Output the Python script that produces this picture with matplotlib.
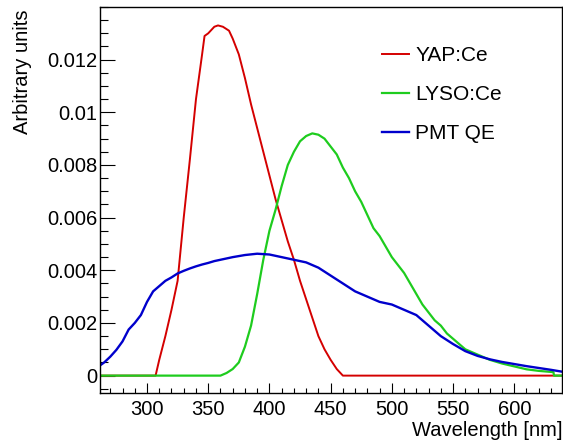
import matplotlib
matplotlib.use("Agg")
import matplotlib.pyplot as plt
from matplotlib.ticker import MultipleLocator

plt.rcParams['font.family'] = ['Liberation Sans', 'DejaVu Sans']

# YAP:Ce emission spectrum
yap_wl = [262, 300, 307, 310, 315, 320, 325, 330, 335, 340, 345, 347, 350, 355, 358,
          362, 367, 370, 375, 380, 385, 390, 395, 400, 405, 410, 415, 420, 425,
          430, 435, 440, 445, 450, 455, 460, 639]
yap_val = [0, 0, 0, 0.0006, 0.0015, 0.0025, 0.0036, 0.0060, 0.0082, 0.0105, 0.0122,
           0.0129, 0.0130, 0.01325, 0.0133, 0.01325, 0.0131, 0.0128, 0.0122, 0.0113,
           0.0103, 0.0094, 0.0085, 0.0076, 0.0067, 0.0059, 0.0051, 0.0044, 0.0036,
           0.0029, 0.0022, 0.0015, 0.0010, 0.0006, 0.00025, 0, 0]

# LYSO:Ce emission spectrum
lyso_wl = [262, 360, 365, 370, 375, 380, 385, 390, 395, 400, 405, 410, 415, 420, 425,
           430, 435, 440, 445, 450, 455, 460, 465, 470, 475, 480, 485, 490, 495,
           500, 505, 510, 515, 520, 525, 530, 535, 540, 545, 550, 555, 560, 570,
           580, 590, 600, 610, 620, 630, 632, 632.5, 639]
lyso_val = [0, 0, 0.0001, 0.00025, 0.0005, 0.0011, 0.0019, 0.0031, 0.0044, 0.0055,
            0.0063, 0.0072, 0.0080, 0.0085, 0.0089, 0.0091, 0.0092, 0.00915, 0.0090,
            0.0087, 0.0084, 0.0079, 0.0075, 0.0070, 0.0066, 0.0061, 0.0056, 0.0053,
            0.0049, 0.0045, 0.0042, 0.0039, 0.0035, 0.0031, 0.0027, 0.0024, 0.0021,
            0.0019, 0.0016, 0.0014, 0.0012, 0.0010, 0.0008, 0.0006, 0.00046,
            0.00035, 0.00024, 0.00018, 0.00014, 0.00013, 0, 0]

# PMT quantum efficiency (scaled)
pmt_wl = [262, 265, 270, 275, 280, 285, 290, 295, 300, 305, 310, 315, 320, 325, 330,
          335, 340, 345, 350, 355, 360, 370, 380, 390, 400, 410, 420, 430, 440,
          450, 460, 470, 480, 490, 500, 510, 520, 530, 540, 550, 560, 570, 580,
          590, 600, 610, 620, 630, 639]
pmt_val = [0.0004, 0.0005, 0.00072, 0.00098, 0.0013, 0.00175, 0.0020, 0.0023, 0.0028,
           0.0032, 0.0034, 0.0036, 0.00373, 0.00388, 0.00398, 0.00407, 0.00415,
           0.00422, 0.00428, 0.00435, 0.0044, 0.0045, 0.00458, 0.00463, 0.0046,
           0.0045, 0.0044, 0.0043, 0.0041, 0.0038, 0.0035, 0.0032, 0.0030, 0.0028,
           0.0027, 0.0025, 0.0023, 0.0019, 0.0015, 0.0012, 0.00093, 0.00075,
           0.00062, 0.00052, 0.00044, 0.00036, 0.00029, 0.00022, 0.00015]

fig = plt.figure(figsize=(5.63, 4.43), dpi=100)
ax = fig.add_axes([100 / 563, 1 - 393 / 443, 462 / 563, 386 / 443])

ax.plot(yap_wl, yap_val, color='#d40000', lw=1.4, label='YAP:Ce')
ax.plot(lyso_wl, lyso_val, color='#1ecc1e', lw=1.6, label='LYSO:Ce')
ax.plot(pmt_wl, pmt_val, color='#0000cc', lw=1.7, label='PMT QE')

ax.set_xlim(261.6, 639)
ax.set_ylim(-0.00066, 0.0140)

ax.xaxis.set_major_locator(MultipleLocator(50))
ax.xaxis.set_minor_locator(MultipleLocator(10))
ax.yaxis.set_minor_locator(MultipleLocator(0.0005))
ax.set_yticks([0, 0.002, 0.004, 0.006, 0.008, 0.01, 0.012])
ax.set_yticklabels(['0', '0.002', '0.004', '0.006', '0.008', '0.01', '0.012'])

ax.tick_params(axis='both', which='both', direction='in', labelsize=14.5,
               top=False, right=False, width=0.8, colors='black')
ax.tick_params(axis='y', which='major', length=10.8, pad=2)
ax.tick_params(axis='y', which='minor', length=5.8)
ax.tick_params(axis='x', which='major', length=7.2, pad=5)
ax.tick_params(axis='x', which='minor', length=3.6)
for s in ax.spines.values():
    s.set_linewidth(1.0)

fig.text(562 / 563, 1 - 430 / 443, 'Wavelength [nm]', ha='right', va='center', fontsize=14.5)
fig.text(22 / 563, 1 - 9 / 443, 'Arbitrary units', ha='center', va='top',
         rotation=90, fontsize=14.5)

ax.legend(loc='upper left', bbox_to_anchor=(282 / 462, 1 - 39 / 386), frameon=False,
          fontsize=15, handlelength=1.3, handletextpad=0.29, labelspacing=0.97,
          borderpad=0, borderaxespad=0)

fig.savefig('out.png', dpi=100)
